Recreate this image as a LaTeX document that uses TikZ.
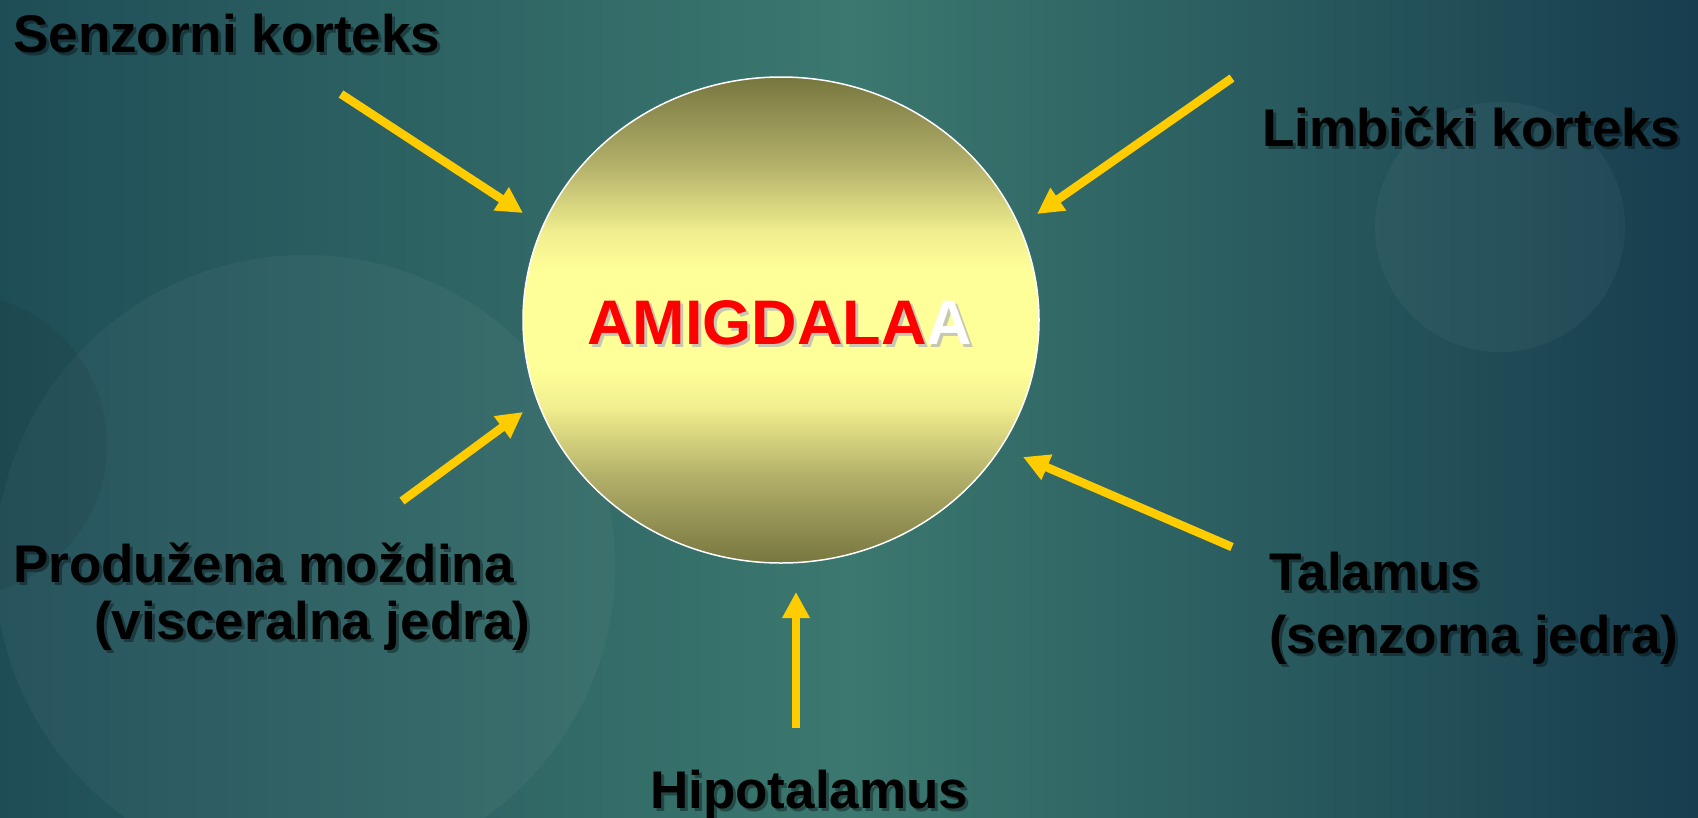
\documentclass[tikz,border=0pt]{standalone}
\usepackage{fontspec}
\setmainfont{Liberation Sans}
\usetikzlibrary{arrows.meta}
\definecolor{bgL}{HTML}{1F4D57}
\definecolor{bgM}{HTML}{3B786F}
\definecolor{bgR}{HTML}{173D4E}
\definecolor{gold}{HTML}{FFCC00}
\definecolor{olive}{HTML}{77763F}
\definecolor{oliveM}{HTML}{B3B06A}
\definecolor{paleY2}{HTML}{F0EE8E}
\definecolor{paleY}{HTML}{FFFF99}
\definecolor{amRed}{HTML}{FF0000}
\pgfdeclareverticalshading{amyshade}{100bp}{color(0bp)=(olive); color(25bp)=(olive); color(34bp)=(oliveM); color(41bp)=(paleY2); color(45bp)=(paleY); color(55bp)=(paleY); color(59bp)=(paleY2); color(66bp)=(oliveM); color(75bp)=(olive); color(100bp)=(olive)}
\begin{document}
\begin{tikzpicture}[x=1pt,y=-1pt,
  lbl/.style={font=\fontsize{53}{60}\selectfont\bfseries, text=black, inner sep=0pt, anchor=base west},
  lblshadow/.style={lbl, text=black, opacity=0.35},
  amfont/.style={font=\fontsize{63}{70}\selectfont\bfseries, inner sep=0pt, anchor=base west},
  inarrow/.style={draw=gold, line width=8.5pt, -{Triangle[length=26pt,width=26pt]}},
  bgcircle/.style={fill=white, opacity=0.04, draw=none},
]
\useasboundingbox (0,0) rectangle (1698,817);
% background
\shade[left color=bgL, right color=bgR, middle color=bgM] (0,0) rectangle (1698,817);
\fill[bgcircle] (305,565) circle[radius=310];
\fill[bgcircle] (1500,227) circle[radius=125];
\fill[black, opacity=0.06] (-45,445) circle[radius=152];

% central ellipse
\shade[shading=amyshade, draw=white, line width=1.5pt]
  (781,320) ellipse[x radius=258, y radius=243];
\node[amfont, text=gray!55, opacity=0.8] at (590,347) {AMIGDALAA};
\node[amfont] (amig) at (587,344) {\textcolor{amRed}{AMIGDALA}\textcolor{white}{A}};
\coordinate (amy) at (781,320);

% label shadows
\node[lblshadow] at (16,55) {Senzorni korteks};
\node[lblshadow] at (1265,149) {Limbički korteks};
\node[lblshadow] at (16,585) {Produžena moždina};
\node[lblshadow] at (97,642) {(visceralna jedra)};
\node[lblshadow] at (1272,593) {Talamus};
\node[lblshadow] at (1272,656) {(senzorna jedra)};
\node[lblshadow] at (653,811) {Hipotalamus};

% labels
\node[lbl] (senz) at (13,52) {Senzorni korteks};
\node[lbl] (limb) at (1262,146) {Limbički korteks};
\node[lbl] (prod) at (13,582) {Produžena moždina};
\node[lbl] (prod2) at (94,639) {(visceralna jedra)};
\node[lbl] (tal) at (1269,590) {Talamus};
\node[lbl] (tal2) at (1269,653) {(senzorna jedra)};
\node[lbl] (hipo) at (650,808) {Hipotalamus};

% arrow ends
\coordinate (s0) at (341,94);   \coordinate (s1) at (523,213);
\coordinate (l0) at (1232,78);  \coordinate (l1) at (1037,214);
\coordinate (p0) at (402,501);  \coordinate (p1) at (523,412);
\coordinate (t0) at (1232,547); \coordinate (t1) at (1023,457);
\coordinate (h0) at (796,728);  \coordinate (h1) at (796,592);

\draw[inarrow] (s0) -- (s1);
\draw[inarrow] (l0) -- (l1);
\draw[inarrow] (p0) -- (p1);
\draw[inarrow] (t0) -- (t1);
\draw[inarrow] (h0) -- (h1);
\end{tikzpicture}
\end{document}
